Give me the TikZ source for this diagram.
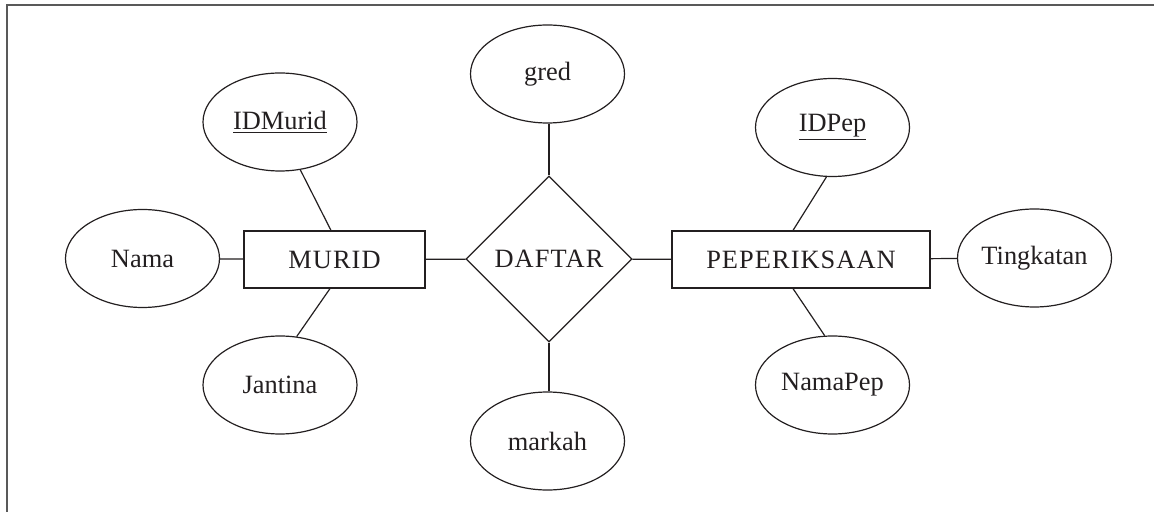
\documentclass[tikz,border=0pt]{standalone}
\usepackage{fontspec}
\usepackage{xcolor}
\usetikzlibrary{shapes.geometric}
\setmainfont{Liberation Serif}
\newfontfamily\capsfont[LetterSpace=4]{Liberation Serif}
\definecolor{ink}{HTML}{231F20}

\begin{document}
\begin{tikzpicture}[x=0.5pt,y=-0.5pt,
        every node/.style={font=\fontsize{13.2}{15}\selectfont, text=ink},
        attr/.style={ellipse, draw=ink, line width=0.6pt, minimum width=77pt, minimum height=49pt, inner sep=0pt},
        entity/.style={rectangle, draw=ink, line width=0.6pt, minimum height=28.5pt, inner sep=0pt, font=\fontsize{13.2}{15}\capsfont},
        rel/.style={diamond, draw=ink, line width=0.6pt, minimum width=83pt, minimum height=83pt, aspect=1, inner sep=0pt, font=\fontsize{13.2}{15}\capsfont},
        link/.style={draw=ink, line width=0.6pt}]
        \useasboundingbox (0,0) rectangle (1154,512);
        \draw[gray!70!black, line width=0.9pt] (1154,5) -- (7,5) -- (7,512);
        \node[entity, minimum width=90.5pt](murid) at (334.5,259.5) {MURID};
        \node[entity, minimum width=129pt](pep) at (801,259.5) {PEPERIKSAAN};
        \node[rel](daftar) at (549,259) {DAFTAR};
        \node[attr](idmurid) at (280,122) {\underline{IDMurid}};
        \node[attr](nama) at (142.5,258.5) {Nama};
        \node[attr](jantina) at (280,385) {Jantina};
        \node[attr](gred) at (547.5,74) {gred};
        \node[attr](markah) at (547.5,441) {markah};
        \node[attr](idpep) at (832.5,127.5) {\underline{IDPep}};
        \node[attr](tingkatan) at (1034.5,258) {Tingkatan};
        \node[attr](namapep) at (832.5,385) {NamaPep};
        \draw[link](idmurid.-67)--([xshift=-1.75pt]murid.north);
        \draw[link](jantina.71)--([xshift=-2.25pt]murid.south);
        \draw[link](nama)--(murid);
        \draw[link](murid)--(daftar);
        \draw[link](daftar)--(pep);
        \draw[link](gred.south -| daftar.north)--(daftar.north);
        \draw[link](daftar.south)--(markah.north -| daftar.south);
        \draw[link](idpep.-97)--([xshift=-4pt]pep.north);
        \draw[link](namapep.99)--([xshift=-4pt]pep.south);
        \draw[link](pep)--(tingkatan);
        \end{tikzpicture}
\end{document}
